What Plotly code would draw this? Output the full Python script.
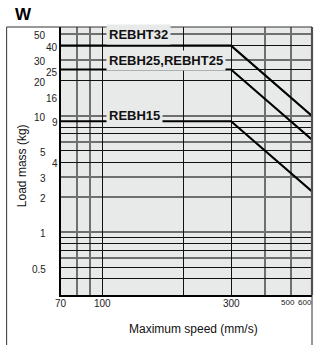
import math
import plotly.graph_objects as go

# ---- data ----
speed_pts = [70, 300, 600]                 # mm/s
load_rebht32 = [40, 40, 10]                # kg
load_rebh25 = [25, 25, 6.25]
load_rebh15 = [9, 9, 2.25]
series_names = ["REBHT32", "REBH25,REBHT25", "REBH15"]

y_tick_vals = [50, 40, 30, 25, 20, 16, 10, 9, 5, 4, 3, 2, 1, 0.5]
y_tick_text = ["50", "40", "30", "25", "20", "16", "10", "9", "5", "4", "3", "2", "1", "0.5"]
x_tick_vals = [70, 100, 300, 500, 600]
x_tick_text = ["70", "100", "300", "500", "600"]

y_grid_dark = [0.4, 0.5, 0.7, 0.8, 0.9, 4, 5, 7, 8, 9, 20, 25, 40]
y_grid_gray = [0.6, 1, 2, 3, 6, 10, 30, 50]
x_grid_dark = [100, 200, 300]
x_grid_gray = [80, 90, 400, 500]

# ---- styling ----
BG = "#e8e9e9"
GRAY = "#6f6f6f"
TICKFONT = dict(family="Liberation Sans, Arial", size=10, color="#222")
LABELFONT = dict(family="Liberation Sans, Arial", size=13, color="#111")
label_anchor = {"REBHT32": (103, 50), "REBH25,REBHT25": (103, 30), "REBH15": (103, 10)}
outer_col = {"50", "30", "20", "10", "5", "3", "2", "1", "0.5"}
extra_shift = {"16": -5, "25": -2}

fig = go.Figure()
for name, ys in zip(series_names, [load_rebht32, load_rebh25, load_rebh15]):
    fig.add_trace(go.Scatter(x=speed_pts, y=ys, mode="lines", name=name,
                             line=dict(color="#000", width=2.1), hoverinfo="skip"))

ann = []
for name in series_names:
    xv, yv = label_anchor[name]
    ann.append(dict(x=math.log10(xv), y=math.log10(yv), xref="x", yref="y",
                    text="<b>%s</b>" % name, showarrow=False, xanchor="left", yanchor="middle",
                    font=LABELFONT, bgcolor=BG, borderpad=2, yshift=0))

for v, t in zip(y_tick_vals, y_tick_text):
    xs = -13 if t in outer_col else -1
    ann.append(dict(x=0, y=math.log10(v), xref="paper", yref="y", text=t, showarrow=False,
                    xanchor="right", yanchor="middle", xshift=xs,
                    yshift=-1.5 + extra_shift.get(t, 0), font=TICKFONT))

for v, t in zip(x_tick_vals, x_tick_text):
    f = dict(TICKFONT)
    xa, xsh = "center", 0
    if t in ("500", "600"):
        f["size"] = 8
        xsh = -3 if t == "500" else -7
    ann.append(dict(x=math.log10(v), y=0, xref="x", yref="paper", text=t, showarrow=False,
                    xanchor=xa, yanchor="top", xshift=xsh, yshift=-1, font=f))

ann.append(dict(x=0.529, y=-0.127, xref="paper", yref="paper", text="Maximum speed (mm/s)",
                showarrow=False, xanchor="center", yanchor="middle",
                font=dict(family="Liberation Sans, Arial", size=12, color="#111")))
ann.append(dict(x=-0.157, y=0.483, xref="paper", yref="paper", text="Load mass (kg)",
                showarrow=False, xanchor="center", yanchor="middle", textangle=-90,
                font=dict(family="Liberation Sans, Arial", size=12, color="#111")))
ann.append(dict(x=-0.149, y=1.048, xref="paper", yref="paper", text="<b>W</b>",
                showarrow=False, xanchor="center", yanchor="middle",
                font=dict(family="Liberation Sans, Arial", size=17, color="#000")))

shapes = [
    dict(type="line", xref="paper", yref="paper", x0=1, x1=1, y0=0, y1=1,
         line=dict(color=GRAY, width=2.2)),
    dict(type="rect", xref="paper", yref="paper", x0=-0.2166, x1=1.0, y0=-0.21, y1=1.0,
         line=dict(color="#333", width=1), layer="above"),
]

fig.update_layout(
    width=318, height=345,
    margin=dict(l=61, r=6, t=27, b=50),
    paper_bgcolor="white", plot_bgcolor=BG,
    showlegend=False,
    annotations=ann, shapes=shapes,
    xaxis=dict(type="log", range=[math.log10(70), math.log10(600)],
               tickvals=x_grid_dark, showticklabels=False, ticks="",
               showgrid=True, gridcolor="#111", gridwidth=1.3,
               minor=dict(tickvals=x_grid_gray, showgrid=True, gridcolor=GRAY, gridwidth=2.2, ticks=""),
               showline=True, linecolor="#000", linewidth=1.5, zeroline=False, fixedrange=True),
    yaxis=dict(type="log", range=[-0.536, 1.762],
               tickvals=y_grid_dark, showticklabels=False, ticks="",
               showgrid=True, gridcolor="#111", gridwidth=1.3,
               minor=dict(tickvals=y_grid_gray, showgrid=True, gridcolor=GRAY, gridwidth=2.2, ticks=""),
               showline=True, linecolor="#000", linewidth=1.5, zeroline=False, fixedrange=True),
)

fig.write_html("out.html", config={"displayModeBar": False},
               post_script="document.body.style.margin='0';document.body.style.overflow='hidden';")
